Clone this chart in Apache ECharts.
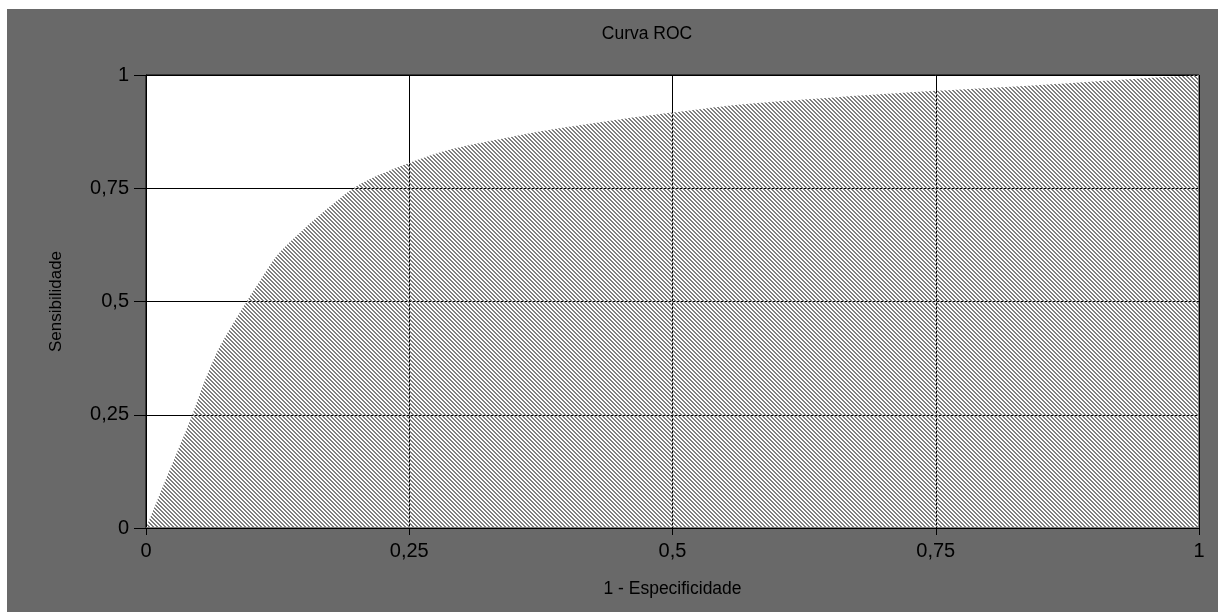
<!DOCTYPE html>
<html>
<head>
<meta charset="utf-8">
<script src="https://cdn.jsdelivr.net/npm/echarts@6/dist/echarts.min.js"></script>
<style>
html,body{margin:0;padding:0;background:#fff;width:1218px;height:612px;overflow:hidden;}
#c{position:absolute;left:7px;top:9px;width:1211px;height:603px;}
</style>
</head>
<body>
<div id="c"></div>
<script>
const fpr = [0, 0.01, 0.02, 0.03, 0.044, 0.055, 0.07, 0.0956, 0.11, 0.125, 0.15, 0.175, 0.197, 0.22, 0.25, 0.29, 0.35, 0.4, 0.45, 0.5, 0.56, 0.65, 0.75, 0.85, 0.93, 1.0];
const tpr = [0, 0.057, 0.114, 0.17, 0.25, 0.32, 0.40, 0.5, 0.552, 0.603, 0.66, 0.71, 0.75, 0.778, 0.806, 0.836, 0.865, 0.885, 0.902, 0.917, 0.934, 0.95, 0.965, 0.978, 0.99, 1.0];
const tickValues = [0, 0.25, 0.5, 0.75, 1];
const titleText = 'Curva ROC';
const xName = '1 - Especificidade';
const yName = 'Sensibilidade';

// hatch pattern (dark downward diagonal)
const pc = document.createElement('canvas');
pc.width = 4; pc.height = 4;
const pctx = pc.getContext('2d');
pctx.fillStyle = '#808080';
for (let y = 0; y < 4; y++) {
  for (let x = 0; x < 4; x++) {
    const d = ((x - y) % 4 + 4) % 4;
    if (d === 0 || d === 1) pctx.fillRect(x, y, 1, 1);
  }
}

const fmt = v => String(v).replace('.', ',');
const chart = echarts.init(document.getElementById('c'), null, {renderer: 'canvas'});
const font = 'Liberation Sans';
chart.setOption({
  backgroundColor: '#696969',
  animation: false,
  title: {
    text: titleText, left: 635, top: 11, textAlign: 'center',
    textStyle: {fontFamily: font, fontSize: 17.5, fontWeight: 'normal', color: '#000'}
  },
  grid: {
    left: 139, top: 66, right: 19, bottom: 84,
    show: true, backgroundColor: '#fff', borderColor: '#000', borderWidth: 1
  },
  xAxis: {
    type: 'value', min: 0, max: 1, interval: 0.25,
    name: xName, nameLocation: 'middle', nameGap: 52,
    nameTextStyle: {fontFamily: font, fontSize: 17.5, color: '#000'},
    axisLine: {show: true, lineStyle: {color: '#000', width: 1}},
    axisTick: {show: true, length: 7, lineStyle: {color: '#000'}},
    axisLabel: {fontFamily: font, fontSize: 20, color: '#000', margin: 13, formatter: fmt},
    splitLine: {show: true, lineStyle: {color: '#000', width: 1}}
  },
  yAxis: {
    type: 'value', min: 0, max: 1, interval: 0.25,
    name: yName, nameLocation: 'middle', nameGap: 81,
    nameTextStyle: {fontFamily: font, fontSize: 17, color: '#000'},
    axisLine: {show: true, lineStyle: {color: '#000', width: 1}},
    axisTick: {show: true, length: 12, lineStyle: {color: '#000'}},
    axisLabel: {fontFamily: font, fontSize: 20, color: '#000', margin: 17, formatter: fmt},
    splitLine: {show: true, lineStyle: {color: '#000', width: 1}}
  },
  series: [{
    type: 'line',
    data: fpr.map((x, i) => [x, tpr[i]]),
    smooth: 0.3,
    showSymbol: false,
    lineStyle: {width: 0},
    areaStyle: {color: {image: pc, repeat: 'repeat'}, opacity: 1}
  }]
});
</script>
</body>
</html>
